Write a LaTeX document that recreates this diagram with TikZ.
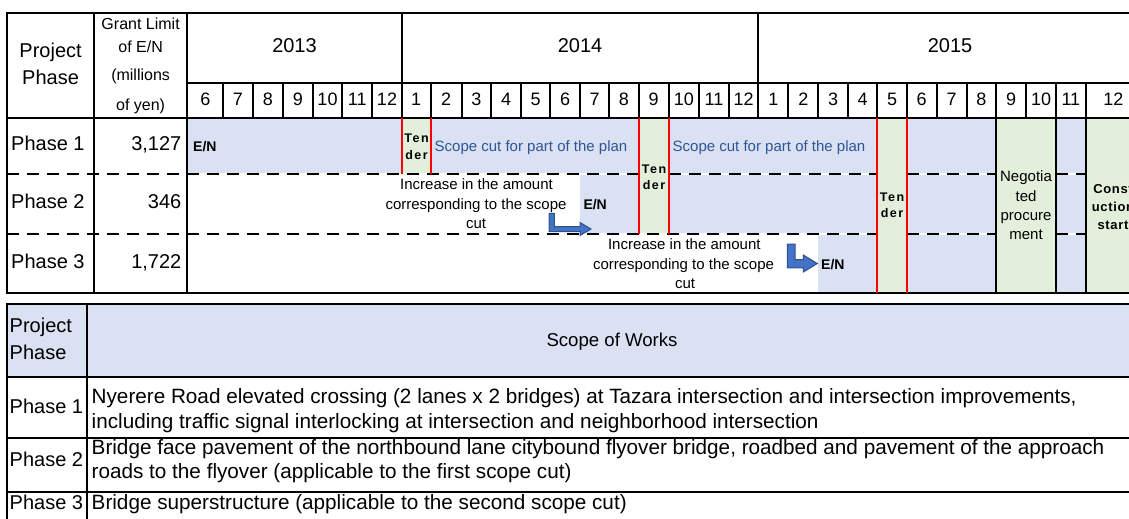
\documentclass[tikz,border=0pt]{standalone}
\usepackage{fontspec}
\setmainfont{Liberation Sans}
\newfontfamily\spaced{Liberation Sans}[LetterSpace=12]
\newfontfamily\spacedb{Liberation Sans}[LetterSpace=5]
\definecolor{lblue}{HTML}{D9E1F2}
\definecolor{lgreen}{HTML}{E2EFDA}
\definecolor{scopetxt}{HTML}{2F5597}
\definecolor{arrfill}{HTML}{4472C4}
\definecolor{arrline}{HTML}{2F528F}
\begin{document}
\begin{tikzpicture}[x=1pt,y=-1pt,
  txt/.style={inner sep=0pt, text height=.96em, text depth=0pt},
  big/.style={txt, font=\fontsize{20}{24}\selectfont},
  mid/.style={txt, font=\fontsize{18}{22}\selectfont},
  hdr/.style={txt, font=\fontsize{16}{19}\selectfont},
  sml/.style={txt, font=\fontsize{15}{18}\selectfont},
  en/.style={txt, font=\bfseries\fontsize{14}{17}\selectfont},
  tnd/.style={txt, font=\spaced\bfseries\fontsize{12.5}{15}\selectfont},
  cst/.style={txt, font=\spacedb\bfseries\fontsize{13}{16}\selectfont},
  bot/.style={txt, font=\fontsize{18.6}{22}\selectfont},
  botph/.style={txt, font=\fontsize{20}{24}\selectfont},
  desc/.style={txt, font=\fontsize{20.7}{25}\selectfont},
  grid/.style={line width=2pt},
  redl/.style={line width=2pt, red},
  dashl/.style={line width=2pt, dash pattern=on 12pt off 8pt},
  whitel/.style={line width=2pt, white},
  blockarrow/.style={fill=arrfill, draw=arrline, line width=1pt, line join=miter}
]
\useasboundingbox (0,0) rectangle (1129,519);
\clip (0,0) rectangle (1129,519);

% ---------- top table fills ----------
\fill[lblue] (187.3,118.3) rectangle (1141,174);
\fill[lblue] (580,174) rectangle (1141,234.3);
\fill[lblue] (818.3,234.3) rectangle (1141,293);
\fill[lgreen] (401.7,118.3) rectangle (430.7,174);
\fill[lgreen] (638.7,118.3) rectangle (668.7,234.3);
\fill[lgreen] (877.3,118.3) rectangle (906.7,293);
\fill[lgreen] (996,118.3) rectangle (1056,293);
\fill[lgreen] (1085.7,118.3) rectangle (1141,293);

% ---------- dashed row separators ----------
\foreach \a/\b/\y in {7.3/638.7/174, 668.7/877.3/174, 906.7/996/174, 1056/1085.7/174,
                      7.3/877.3/234.3, 906.7/996/234.3, 1056/1085.7/234.3}{
  \draw[whitel] (\a,\y) -- (\b,\y);
  \draw[dashl] (\a,\y) -- (\b,\y);
}

% ---------- top table grid ----------
\draw[grid] (7.3,13.3) rectangle (1141,293);
\draw[grid] (94,13.3) -- (94,293);
\draw[grid] (187.3,13.3) -- (187.3,293);
\draw[grid] (187.3,83.3) -- (1141,83.3);
\draw[grid] (7.3,118.3) -- (1141,118.3);
\draw[grid] (401.7,13.3) -- (401.7,83.3);
\draw[grid] (758.3,13.3) -- (758.3,83.3);
\foreach \x in {223.3,252.7,283.3,312.7,342.3,372.3,401.7,430.7,461.7,491,521,550,580,609,638.7,668.7,699,729,758.3,788.3,818.3,847.7,877.3,906.7,936.7,966.7,996,1026,1056,1085.7}
  \draw[grid] (\x,83.3) -- (\x,118.3);
\draw[grid] (996,118.3) -- (996,293);
\draw[grid] (1056,118.3) -- (1056,293);
\draw[grid] (1085.7,118.3) -- (1085.7,293);
\draw[redl] (401.7,118.3) -- (401.7,174);
\draw[redl] (430.7,118.3) -- (430.7,174);
\draw[redl] (638.7,118.3) -- (638.7,234.3);
\draw[redl] (668.7,118.3) -- (668.7,234.3);
\draw[redl] (877.3,118.3) -- (877.3,293);
\draw[redl] (906.7,118.3) -- (906.7,293);

% ---------- top table header text ----------
\node[big] (hp1) at (50.6,53) {Project};
\node[big] (hp2) at (50.6,80) {Phase};
\node[hdr] (hg1) at (140.6,25) {Grant Limit};
\node[hdr] (hg2) at (140.6,48) {of E/N};
\node[hdr] (hg3) at (140.6,76) {(millions};
\node[hdr] (hg4) at (140.6,106) {of yen)};
\node[big] (y13) at (294.5,48) {2013};
\node[big] (y14) at (580,48) {2014};
\node[big] (y15) at (950,48) {2015};
\foreach \a/\b/\m [count=\i] in {187.3/223.3/6, 223.3/252.7/7, 252.7/283.3/8, 283.3/312.7/9, 312.7/342.3/10, 342.3/372.3/11, 372.3/401.7/12, 401.7/430.7/1, 430.7/461.7/2, 461.7/491/3, 491/521/4, 521/550/5, 550/580/6, 580/609/7, 609/638.7/8, 638.7/668.7/9, 668.7/699/10, 699/729/11, 729/758.3/12, 758.3/788.3/1, 788.3/818.3/2, 818.3/847.7/3, 847.7/877.3/4, 877.3/906.7/5, 906.7/936.7/6, 936.7/966.7/7, 966.7/996/8, 996/1026/9, 1026/1056/10, 1056/1085.7/11, 1085.7/1141/12}
  \node[mid] (mo\i) at ({(\a+\b)/2},100.5) {\m};

% ---------- row labels ----------
\node[big, anchor=west] (ph1) at (11,146) {Phase 1};
\node[big, anchor=west] (ph2) at (11,204) {Phase 2};
\node[big, anchor=west] (ph3) at (11,264) {Phase 3};
\node[big, anchor=east] (gl1) at (181.5,146) {3,127};
\node[big, anchor=east] (gl2) at (181.5,204) {346};
\node[big, anchor=east] (gl3) at (181.5,264) {1,722};

% ---------- bars text ----------
\node[en, anchor=west] (en1) at (193,147) {E/N};
\node[tnd] (t1a) at (416.5,138) {Ten};
\node[tnd] (t1b) at (416.5,155) {der};
\node[sml, anchor=west, text=scopetxt] (sc1) at (434.5,147) {Scope cut for part of the plan};
\node[sml, anchor=west, text=scopetxt] (sc2) at (672.5,147) {Scope cut for part of the plan};
\node[tnd] (t2a) at (654,168.3) {Ten};
\node[tnd] (t2b) at (654,185) {der};
\node[sml] (in1a) at (476.5,185) {Increase in the amount};
\node[sml] (in1b) at (476,204.5) {corresponding to the scope};
\node[sml] (in1c) at (476,224) {cut};
\node[en, anchor=west] (en2) at (583.3,205) {E/N};
\node[sml] (in2a) at (684.3,245) {Increase in the amount};
\node[sml] (in2b) at (683.5,264.5) {corresponding to the scope};
\node[sml] (in2c) at (685,283.5) {cut};
\node[en, anchor=west] (en3) at (821,265) {E/N};
\node[tnd] (t3a) at (892,196.7) {Ten};
\node[tnd] (t3b) at (892,213) {der};
\node[sml] (ng1) at (1026,176.7) {Negotia};
\node[sml] (ng2) at (1026,196.5) {ted};
\node[sml] (ng3) at (1026,216) {procure};
\node[sml] (ng4) at (1026,235) {ment};
\node[cst] (cs1) at (1113,189) {Const};
\node[cst] (cs2) at (1113,207) {uction};
\node[cst] (cs3) at (1113,225) {start};

% ---------- bent arrows ----------
\draw[blockarrow] (549,213.3) -- (554.3,213.3) -- (554.3,226.5) -- (580,226.5) -- (580,222.5)
  -- (591,229) -- (580,235.5) -- (580,231.7) -- (549,231.7) -- cycle;
\draw[blockarrow] (787.3,244) -- (795,244) -- (795,259.5) -- (803.3,259.5) -- (803.3,255)
  -- (817.3,263.5) -- (803.3,272) -- (803.3,267.8) -- (787.3,267.8) -- cycle;

% ---------- bottom table ----------
\fill[lblue] (7.3,304.3) rectangle (1141,376.7);
\draw[grid] (7.3,540) -- (7.3,304.3) -- (1141,304.3);
\draw[grid] (87.3,304.3) -- (87.3,540);
\draw[grid] (7.3,376.7) -- (1141,376.7);
\draw[grid] (7.3,437.7) -- (1141,437.7);
\draw[grid] (7.3,491.7) -- (1141,491.7);

\node[botph, anchor=west] (bp1) at (9.5,328) {Project};
\node[botph, anchor=west] (bp2) at (9.5,355) {Phase};
\node[bot] (sow) at (612,341.7) {Scope of Works};
\node[botph, anchor=west] (bph1) at (9.5,409) {Phase 1};
\node[desc, anchor=west] (d1a) at (91.5,398.3) {Nyerere Road elevated crossing (2 lanes x 2 bridges) at Tazara intersection and intersection improvements,};
\node[desc, anchor=west] (d1b) at (91.5,423.3) {including traffic signal interlocking at intersection and neighborhood intersection};
\node[botph, anchor=west] (bph2) at (9.5,462) {Phase 2};
\node[desc, anchor=west] (d2a) at (91.5,450) {Bridge face pavement of the northbound lane citybound flyover bridge, roadbed and pavement of the approach};
\node[desc, anchor=west] (d2b) at (91.5,473.3) {roads to the flyover (applicable to the first scope cut)};
\node[botph, anchor=west] (bph3) at (9.5,505) {Phase 3};
\node[desc, anchor=west] (d3a) at (91.5,505) {Bridge superstructure (applicable to the second scope cut)};
\end{tikzpicture}
\end{document}
